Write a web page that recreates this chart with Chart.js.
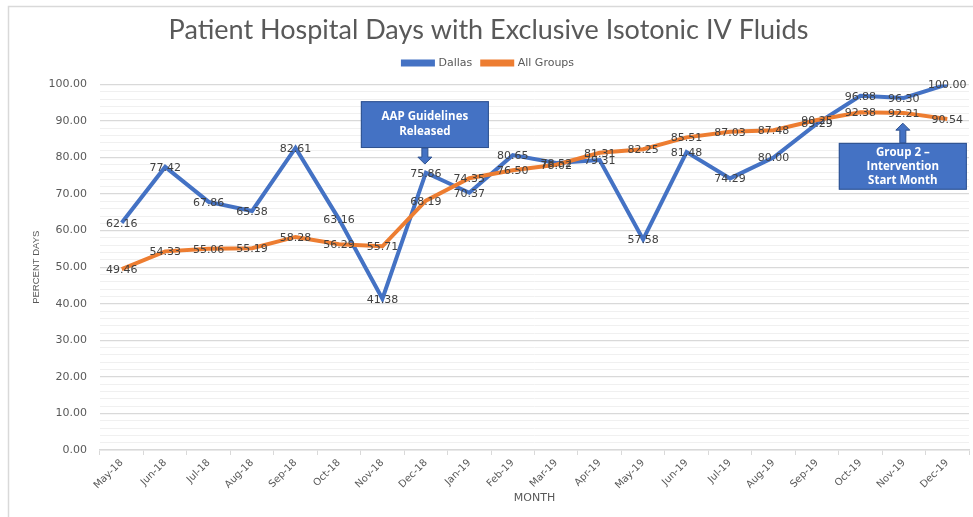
<!DOCTYPE html>
<html>
<head>
<meta charset="utf-8">
<script src="https://cdn.jsdelivr.net/npm/chart.js@4.4.1/dist/chart.umd.min.js"></script>
<style>
    html, body { margin: 0; padding: 0; background: #fff; }
</style>
</head>
<body>
<canvas id="hospitalDaysChart" width="973" height="517"></canvas>
<script>
// Datos del gráfico
const months = ['May-18', 'Jun-18', 'Jul-18', 'Aug-18', 'Sep-18', 'Oct-18', 'Nov-18', 'Dec-18',
                'Jan-19', 'Feb-19', 'Mar-19', 'Apr-19', 'May-19', 'Jun-19', 'Jul-19', 'Aug-19',
                'Sep-19', 'Oct-19', 'Nov-19', 'Dec-19'];
const dallas = [62.16, 77.42, 67.86, 65.38, 82.61, 63.16, 41.38, 75.86, 70.37, 80.65,
                78.52, 79.31, 57.58, 81.48, 74.29, 80.00, 89.29, 96.88, 96.30, 100.00];
const allGroups = [49.46, 54.33, 55.06, 55.19, 58.28, 56.29, 55.71, 68.19, 74.35, 76.50,
                   78.02, 81.31, 82.25, 85.51, 87.03, 87.48, 90.25, 92.38, 92.21, 90.54];

// Cuadros de anotación (mes y valores del eje Y)
const callouts = [
    { lines: ['AAP Guidelines', 'Released'], month: 'Dec-18', top: 95.4, bottom: 82.6, tip: 78.2 },
    { lines: ['Group 2 \u2013', 'Intervention', 'Start Month'], month: 'Nov-19', top: 84.0, bottom: 71.2, tip: 89.4 }
];

const BLUE = '#4472C4';
const ORANGE = '#ED7D31';
const GREY_TEXT = '#595959';

// Fondo blanco y marco gris; espacio extra bajo la leyenda
const framePlugin = {
    id: 'frame',
    beforeInit(chart) {
        const legend = chart.legend;
        if (legend) {
            const fit = legend.fit.bind(legend);
            legend.fit = function() { fit(); this.height += 6; };
        }
    },
    beforeDraw(chart) {
        const ctx = chart.ctx;
        ctx.save();
        ctx.fillStyle = '#fff';
        ctx.fillRect(0, 0, chart.width, chart.height);
        ctx.strokeStyle = '#d9d9d9';
        ctx.lineWidth = 1.5;
        ctx.strokeRect(8.5, 6.5, chart.width + 20, chart.height + 20);
        ctx.restore();
    }
};

// Etiquetas de valor centradas en cada punto
const valueLabelsPlugin = {
    id: 'valueLabels',
    afterDatasetsDraw(chart) {
        const ctx = chart.ctx;
        ctx.save();
        ctx.font = '11px "DejaVu Sans"';
        ctx.fillStyle = '#404040';
        ctx.textAlign = 'center';
        ctx.textBaseline = 'middle';
        chart.data.datasets.forEach((ds, i) => {
            chart.getDatasetMeta(i).data.forEach((pt, j) => {
                ctx.fillText(ds.data[j].toFixed(2), pt.x, pt.y + 1);
            });
        });
        ctx.restore();
    }
};

// Cuadros azules con flecha
const calloutPlugin = {
    id: 'callouts',
    afterDraw(chart) {
        const ctx = chart.ctx;
        const xs = chart.scales.x;
        const ys = chart.scales.y;
        const boxWidth = 128;
        ctx.save();
        callouts.forEach(c => {
            const cx = xs.getPixelForValue(months.indexOf(c.month)) - 1;
            const top = ys.getPixelForValue(c.top);
            const bottom = ys.getPixelForValue(c.bottom);
            const tip = ys.getPixelForValue(c.tip);

            // flecha
            const start = tip > bottom ? bottom : top;
            const dir = tip > bottom ? 1 : -1;
            const headLen = 7;
            const shaftEnd = tip - dir * headLen;
            ctx.fillStyle = BLUE;
            ctx.strokeStyle = '#2F528F';
            ctx.lineWidth = 1;
            ctx.beginPath();
            ctx.moveTo(cx - 3, start);
            ctx.lineTo(cx - 3, shaftEnd);
            ctx.lineTo(cx - 7, shaftEnd);
            ctx.lineTo(cx, tip);
            ctx.lineTo(cx + 7, shaftEnd);
            ctx.lineTo(cx + 3, shaftEnd);
            ctx.lineTo(cx + 3, start);
            ctx.closePath();
            ctx.fill();
            ctx.stroke();

            // cuadro
            ctx.fillStyle = BLUE;
            ctx.fillRect(cx - boxWidth / 2, top, boxWidth, bottom - top);
            ctx.strokeRect(cx - boxWidth / 2 + 0.5, top + 0.5, boxWidth - 1, bottom - top - 1);

            // texto
            ctx.fillStyle = '#fff';
            ctx.font = 'bold 11.5px "Open Sans"';
            ctx.textAlign = 'center';
            ctx.textBaseline = 'middle';
            const lh = c.lines.length > 2 ? 14 : 15;
            const mid = (top + bottom) / 2;
            c.lines.forEach((line, k) => {
                ctx.fillText(line, cx, mid + (k - (c.lines.length - 1) / 2) * lh);
            });
        });
        ctx.restore();
    }
};

const ctx = document.getElementById('hospitalDaysChart').getContext('2d');
const hospitalDaysChart = new Chart(ctx, {
    type: 'line',
    data: {
        labels: months,
        datasets: [
            {
                label: 'Dallas',
                data: dallas,
                borderColor: BLUE,
                backgroundColor: BLUE,
                borderWidth: 4,
                pointRadius: 0,
                tension: 0,
                order: 2
            },
            {
                label: 'All Groups',
                data: allGroups,
                borderColor: ORANGE,
                backgroundColor: ORANGE,
                borderWidth: 4,
                pointRadius: 0,
                tension: 0,
                order: 1
            }
        ]
    },
    options: {
        responsive: false,
        animation: false,
        layout: { padding: { left: 8, right: 4, top: 0, bottom: 8 } },
        plugins: {
            title: {
                display: true,
                text: 'Patient Hospital Days with Exclusive Isotonic IV Fluids',
                color: GREY_TEXT,
                font: { family: 'Lato', size: 27, weight: 'normal' },
                padding: { top: 14, bottom: 1 }
            },
            legend: {
                display: true,
                labels: {
                    color: GREY_TEXT,
                    font: { family: '"DejaVu Sans"', size: 11 },
                    boxWidth: 30,
                    boxHeight: 3,
                    padding: 10,
                    sort: (a, b) => a.datasetIndex - b.datasetIndex
                }
            },
            tooltip: { enabled: false }
        },
        scales: {
            x: {
                offset: true,
                grid: {
                    display: true,
                    drawOnChartArea: false,
                    drawTicks: true,
                    tickLength: 5,
                    color: '#d9d9d9',
                    offset: true
                },
                border: { color: '#d9d9d9', width: 1.5 },
                ticks: {
                    color: GREY_TEXT,
                    font: { family: '"DejaVu Sans"', size: 10 },
                    maxRotation: 45,
                    minRotation: 45,
                    autoSkip: false,
                    padding: 2
                },
                title: {
                    display: true,
                    text: 'MONTH',
                    color: GREY_TEXT,
                    font: { family: '"DejaVu Sans"', size: 11 },
                    padding: { top: 0, bottom: 4 }
                },
                afterFit: scale => { scale.height = 59; }
            },
            y: {
                min: 0,
                max: 100,
                grid: {
                    drawTicks: false,
                    color: c => (c.tick && c.tick.value % 10 === 0) ? '#d9d9d9' : '#f0f0f0',
                    lineWidth: c => (c.tick && c.tick.value % 10 === 0) ? 1.2 : 1
                },
                border: { display: false },
                ticks: {
                    stepSize: 2,
                    autoSkip: false,
                    color: GREY_TEXT,
                    font: { family: '"DejaVu Sans"', size: 11 },
                    padding: 13,
                    callback: v => (v % 10 === 0) ? v.toFixed(2) : ''
                },
                title: {
                    display: true,
                    text: 'PERCENT DAYS',
                    color: GREY_TEXT,
                    font: { family: '"Liberation Sans"', size: 9.5 },
                    padding: { top: 23, bottom: 0 }
                },
                afterFit: scale => { scale.width = 92; }
            }
        }
    },
    plugins: [framePlugin, valueLabelsPlugin, calloutPlugin]
});
</script>
</body>
</html>
